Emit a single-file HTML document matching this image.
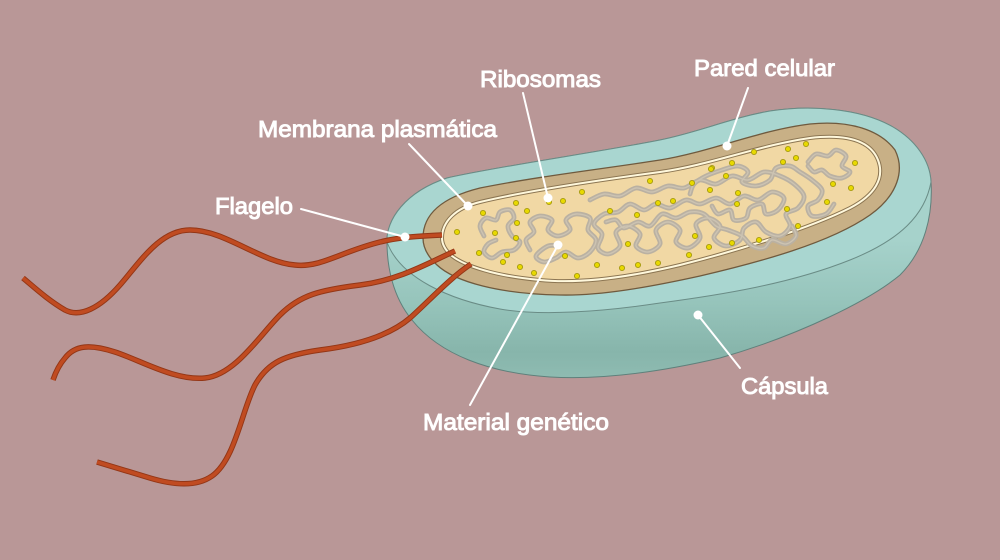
<!DOCTYPE html>
<html>
<head>
<meta charset="utf-8">
<style>
  html,body{margin:0;padding:0;background:#b99797;}
  svg{display:block;}
  text{font-family:"Liberation Sans", Arial, sans-serif;font-size:23.5px;fill:#ffffff;stroke:#ffffff;stroke-width:0.95px;paint-order:stroke;}
</style>
</head>
<body>
<svg width="1000" height="560" viewBox="0 0 1000 560" xmlns="http://www.w3.org/2000/svg">
  <defs>
    <linearGradient id="side" x1="0" y1="240" x2="0" y2="380" gradientUnits="userSpaceOnUse">
      <stop offset="0" stop-color="#a6d2cb"/>
      <stop offset="0.45" stop-color="#96c4bb"/>
      <stop offset="0.8" stop-color="#87b5ab"/>
      <stop offset="1" stop-color="#8fbcb2"/>
    </linearGradient>
  </defs>
  <rect x="0" y="0" width="1000" height="560" fill="#b99797"/>

  <!-- capsule silhouette (side) -->
  <path d="M387,242 C386,220 405,192 447,178 C500,166 600,152 660,140 C700,132 730,118 770,111 C810,105 860,108 893,127 C915,140 930,160 931,182 C933,215 925,250 900,275 C870,300 800,335 720,358 C660,372 600,380 550,377 C490,373 440,355 412,320 C392,296 387,265 387,242 Z" fill="url(#side)" stroke="#5f807b" stroke-width="1"/>
  <!-- capsule top face -->
  <path d="M387,242 C386,220 405,192 447,178 C500,166 600,152 660,140 C700,132 730,118 770,111 C810,105 860,108 893,127 C915,140 930,160 931,182 C925,215 900,240 850,260 C790,284 720,295 660,303 C600,312 540,316 500,309 C450,300 400,278 387,242 Z" fill="#a9d6d0" stroke="#6a8c86" stroke-width="1"/>

  <!-- cell wall -->
  <path d="M423,238 C423,215 440,198 480,188 C540,176 610,168 660,160 C710,152 760,130 810,124 C850,120 880,130 895,150 C905,170 898,195 870,215 C830,243 760,262 700,276 C650,287 600,296 560,295 C500,294 455,282 437,265 C426,255 423,246 423,238 Z" fill="#c8b086" stroke="#6f5a3e" stroke-width="1.3"/>

  <!-- cytoplasm + membrane -->
  <path d="M442,238 C442,222 455,208 480,202 C530,190 600,180 660,172 C710,165 760,145 810,138 C845,134 870,140 878,160 C885,178 875,195 850,208 C810,228 740,250 680,265 C630,277 580,284 540,280 C495,276 465,266 452,256 C445,250 442,244 442,238 Z" fill="#f1d8a4" stroke="#8b7552" stroke-width="4"/>
  <path d="M442,238 C442,222 455,208 480,202 C530,190 600,180 660,172 C710,165 760,145 810,138 C845,134 870,140 878,160 C885,178 875,195 850,208 C810,228 740,250 680,265 C630,277 580,284 540,280 C495,276 465,266 452,256 C445,250 442,244 442,238 Z" fill="none" stroke="#fff8dc" stroke-width="2"/>

  <!-- genetic material -->
  <g id="dnaOuter" fill="none" stroke="#bab1a2" stroke-width="4.8" stroke-linejoin="round" stroke-linecap="round">
    <polyline points="484,236 480,226 486,218 496,220 500,212 510,210 514,218 508,226 512,236 520,242 514,250 502,252 492,258 484,252 488,244 496,240"/>
    <polyline points="530,250 526,240 534,232 530,222 540,216 552,220 548,230 558,236 570,230 566,220 576,214 590,218 588,230 596,240 590,252 578,258 566,252 556,258 544,262 536,256 548,246 560,246"/>
    <polyline points="590,200 604,194 620,196 636,188 652,192 668,186 684,188 700,180 716,184 732,176 748,180 764,172 780,176 794,184 804,196 798,208 786,214 790,226 780,236 766,232 756,222 744,228 740,240 726,246 714,238 720,226 708,218 696,224 700,238 688,248 676,242 680,230 668,222 656,230 660,244 648,252 636,246 640,234 628,226 616,232 620,246 608,254 598,248 602,234 594,224 604,214 618,212 630,204 644,210 656,204 670,208 686,200 700,204 716,198 730,204 744,196 758,200 772,192 784,198 778,210 766,214 762,204 750,208 746,218 734,220 730,210 718,214 712,206"/>
    <polyline points="606,222 616,220 624,228 638,222 650,226 662,214 676,218 690,212 704,214 716,226 728,230 742,236 752,246 764,248 772,240 786,244 796,236 792,226"/>
    <polyline points="690,194 694,184 706,176 722,170 738,166 748,172 742,182 756,186 770,180 776,168 790,166 800,172 812,180 822,190 818,200 808,206 812,216 826,214 834,204"/>
    <polyline points="808,162 816,154 828,156 836,150 846,156 842,166 850,172 842,178 830,176 822,170 814,172 808,166"/>
  </g>
  <g id="dnaInner" fill="none" stroke="#ccc3b2" stroke-width="1.4" stroke-linejoin="round" stroke-linecap="round">
    <polyline points="484,236 480,226 486,218 496,220 500,212 510,210 514,218 508,226 512,236 520,242 514,250 502,252 492,258 484,252 488,244 496,240"/>
    <polyline points="530,250 526,240 534,232 530,222 540,216 552,220 548,230 558,236 570,230 566,220 576,214 590,218 588,230 596,240 590,252 578,258 566,252 556,258 544,262 536,256 548,246 560,246"/>
    <polyline points="590,200 604,194 620,196 636,188 652,192 668,186 684,188 700,180 716,184 732,176 748,180 764,172 780,176 794,184 804,196 798,208 786,214 790,226 780,236 766,232 756,222 744,228 740,240 726,246 714,238 720,226 708,218 696,224 700,238 688,248 676,242 680,230 668,222 656,230 660,244 648,252 636,246 640,234 628,226 616,232 620,246 608,254 598,248 602,234 594,224 604,214 618,212 630,204 644,210 656,204 670,208 686,200 700,204 716,198 730,204 744,196 758,200 772,192 784,198 778,210 766,214 762,204 750,208 746,218 734,220 730,210 718,214 712,206"/>
    <polyline points="606,222 616,220 624,228 638,222 650,226 662,214 676,218 690,212 704,214 716,226 728,230 742,236 752,246 764,248 772,240 786,244 796,236 792,226"/>
    <polyline points="690,194 694,184 706,176 722,170 738,166 748,172 742,182 756,186 770,180 776,168 790,166 800,172 812,180 822,190 818,200 808,206 812,216 826,214 834,204"/>
    <polyline points="808,162 816,154 828,156 836,150 846,156 842,166 850,172 842,178 830,176 822,170 814,172 808,166"/>
  </g>

  <!-- ribosomes -->
  <g fill="#e8d900" stroke="#a69a12" stroke-width="0.9">
    <circle cx="483" cy="213" r="2.6"/><circle cx="516" cy="203" r="2.6"/><circle cx="527" cy="211" r="2.6"/>
    <circle cx="549" cy="202" r="2.6"/><circle cx="563" cy="201" r="2.6"/><circle cx="582" cy="192" r="2.6"/>
    <circle cx="517" cy="223" r="2.6"/><circle cx="457" cy="232" r="2.6"/><circle cx="495" cy="233" r="2.6"/>
    <circle cx="516" cy="238" r="2.6"/><circle cx="479" cy="253" r="2.6"/><circle cx="507" cy="255" r="2.6"/>
    <circle cx="503" cy="262" r="2.6"/><circle cx="520" cy="267" r="2.6"/><circle cx="534" cy="273" r="2.6"/>
    <circle cx="565" cy="256" r="2.6"/><circle cx="577" cy="276" r="2.6"/><circle cx="597" cy="265" r="2.6"/>
    <circle cx="622" cy="268" r="2.6"/><circle cx="638" cy="265" r="2.6"/><circle cx="658" cy="263" r="2.6"/>
    <circle cx="628" cy="244" r="2.6"/><circle cx="610" cy="211" r="2.6"/><circle cx="637" cy="215" r="2.6"/>
    <circle cx="650" cy="181" r="2.6"/><circle cx="658" cy="203" r="2.6"/>
    <circle cx="712" cy="168" r="2.6"/><circle cx="732" cy="163" r="2.6"/><circle cx="783" cy="162" r="2.6"/>
    <circle cx="726" cy="176" r="2.6"/><circle cx="692" cy="183" r="2.6"/><circle cx="710" cy="190" r="2.6"/>
    <circle cx="738" cy="193" r="2.6"/><circle cx="673" cy="201" r="2.6"/><circle cx="737" cy="204" r="2.6"/>
    <circle cx="787" cy="209" r="2.6"/><circle cx="798" cy="226" r="2.6"/><circle cx="695" cy="236" r="2.6"/>
    <circle cx="732" cy="243" r="2.6"/><circle cx="759" cy="240" r="2.6"/><circle cx="709" cy="247" r="2.6"/>
    <circle cx="689" cy="255" r="2.6"/>
    <circle cx="806" cy="144" r="2.6"/><circle cx="788" cy="149" r="2.6"/><circle cx="754" cy="152" r="2.6"/>
    <circle cx="796" cy="158" r="2.6"/><circle cx="855" cy="163" r="2.6"/><circle cx="711" cy="169" r="2.6"/>
    <circle cx="833" cy="184" r="2.6"/><circle cx="851" cy="188" r="2.6"/><circle cx="827" cy="202" r="2.6"/>
  </g>

  <!-- flagella -->
  <g fill="none" stroke-linecap="butt" stroke-linejoin="round">
    <g stroke="#933616" stroke-width="5.5">
      <path d="M442,235 C420,236 400,237 380,242 C340,252 320,268 295,265 C260,262 225,230 190,230 C160,230 140,262 120,285 C100,308 80,318 65,310 C48,300 35,288 23,278"/>
      <path d="M455,251 C430,262 400,280 360,285 C320,290 300,295 280,315 C260,335 235,375 205,378 C175,381 140,360 115,352 C90,344 75,345 65,358 C58,366 55,374 53,380"/>
      <path d="M471,264 C450,278 430,300 410,318 C390,335 360,345 320,350 C285,355 268,362 255,385 C242,410 235,460 212,476 C195,488 170,484 150,478 C130,472 110,466 97,462"/>
    </g>
    <g stroke="#c04b21" stroke-width="3.6">
      <path d="M442,235 C420,236 400,237 380,242 C340,252 320,268 295,265 C260,262 225,230 190,230 C160,230 140,262 120,285 C100,308 80,318 65,310 C48,300 35,288 23,278"/>
      <path d="M455,251 C430,262 400,280 360,285 C320,290 300,295 280,315 C260,335 235,375 205,378 C175,381 140,360 115,352 C90,344 75,345 65,358 C58,366 55,374 53,380"/>
      <path d="M471,264 C450,278 430,300 410,318 C390,335 360,345 320,350 C285,355 268,362 255,385 C242,410 235,460 212,476 C195,488 170,484 150,478 C130,472 110,466 97,462"/>
    </g>
  </g>

  <!-- leader lines -->
  <g stroke="#ffffff" stroke-width="2" fill="none" stroke-linecap="round">
    <line x1="301" y1="209" x2="405" y2="237"/>
    <line x1="409" y1="144" x2="468" y2="206"/>
    <line x1="523" y1="93" x2="548" y2="198"/>
    <line x1="748" y1="88" x2="727" y2="146"/>
    <line x1="470" y1="405" x2="558" y2="245"/>
    <line x1="740" y1="368" x2="698" y2="315"/>
  </g>
  <g fill="#ffffff">
    <circle cx="405" cy="237" r="4.5"/>
    <circle cx="468" cy="206" r="4.5"/>
    <circle cx="548" cy="198" r="4.5"/>
    <circle cx="727" cy="146" r="4.5"/>
    <circle cx="558" cy="245" r="4.5"/>
    <circle cx="698" cy="315" r="4.5"/>
  </g>

  <!-- labels -->
  <text x="480" y="87" textLength="121" lengthAdjust="spacingAndGlyphs">Ribosomas</text>
  <text x="694" y="76" textLength="141" lengthAdjust="spacingAndGlyphs">Pared celular</text>
  <text x="258" y="137" textLength="239" lengthAdjust="spacingAndGlyphs">Membrana plasmática</text>
  <text x="215" y="214" textLength="78" lengthAdjust="spacingAndGlyphs">Flagelo</text>
  <text x="741" y="394" textLength="87" lengthAdjust="spacingAndGlyphs">Cápsula</text>
  <text x="423" y="430" textLength="186" lengthAdjust="spacingAndGlyphs">Material genético</text>
</svg>
<script>
(function(){
  var NS="http://www.w3.org/2000/svg";
  function smooth(pts){
    var d="M"+pts[0][0]+","+pts[0][1];
    for(var i=0;i<pts.length-1;i++){
      var p0=pts[i-1]||pts[i], p1=pts[i], p2=pts[i+1], p3=pts[i+2]||p2;
      var c1x=p1[0]+(p2[0]-p0[0])/6, c1y=p1[1]+(p2[1]-p0[1])/6;
      var c2x=p2[0]-(p3[0]-p1[0])/6, c2y=p2[1]-(p3[1]-p1[1])/6;
      d+=" C"+c1x.toFixed(1)+","+c1y.toFixed(1)+" "+c2x.toFixed(1)+","+c2y.toFixed(1)+" "+p2[0]+","+p2[1];
    }
    return d;
  }
  ["dnaOuter","dnaInner"].forEach(function(id){
    var g=document.getElementById(id);
    var pls=Array.prototype.slice.call(g.getElementsByTagName("polyline"));
    pls.forEach(function(pl){
      var nums=pl.getAttribute("points").trim().split(/[\s,]+/).map(Number);
      var pts=[];
      for(var i=0;i<nums.length;i+=2)pts.push([nums[i],nums[i+1]]);
      var p=document.createElementNS(NS,"path");
      p.setAttribute("d",smooth(pts));
      g.replaceChild(p,pl);
    });
  });
})();
</script>
</body>
</html>
